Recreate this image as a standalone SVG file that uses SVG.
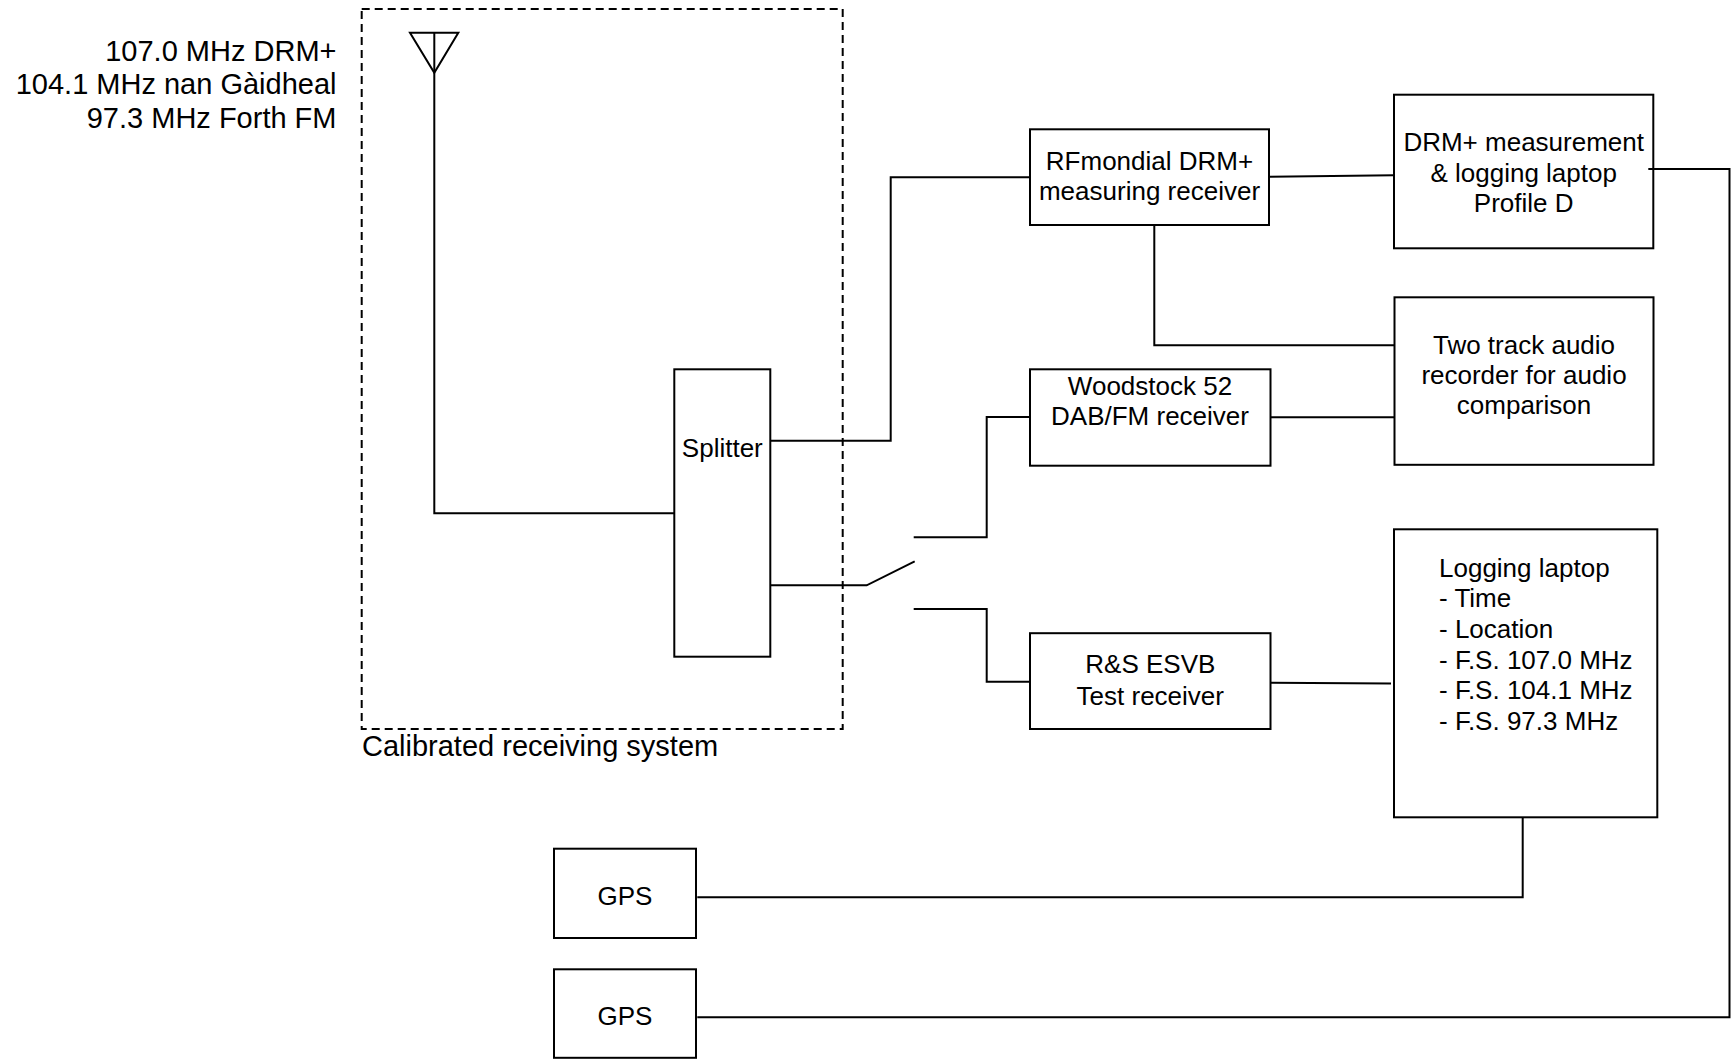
<svg xmlns="http://www.w3.org/2000/svg" width="1731" height="1059" viewBox="0 0 1731 1059">
<style>
.box{fill:#fff;stroke:#000;stroke-width:2}
.wire{fill:none;stroke:#000;stroke-width:2}
.dash{fill:none;stroke:#000;stroke-width:2;stroke-dasharray:8 5}
text{font-family:"Liberation Sans",Arial,sans-serif;fill:#000}
.lbl{font-size:26px;text-anchor:middle}
.big{font-size:29px}
</style>
<rect width="1731" height="1059" fill="#fff"/>
<g id="calibrated-system">
<rect class="dash" x="361.7" y="9" width="481" height="720"/>
<text class="big" x="362" y="756">Calibrated receiving system</text>
</g>
<g id="frequencies">
<text class="big" text-anchor="end" x="336.5" y="60.7">107.0 MHz DRM+</text>
<text class="big" text-anchor="end" x="336.5" y="94">104.1 MHz nan Gàidheal</text>
<text class="big" text-anchor="end" x="336.5" y="127.7">97.3 MHz Forth FM</text>
</g>
<g id="antenna">
<polygon class="wire" points="410,32.7 458.3,32.7 434.3,72.7"/>
<line class="wire" x1="434.3" y1="32.7" x2="434.3" y2="72.7"/>
</g>
<g id="splitter">
<rect class="box" x="674.3" y="369.3" width="96" height="287.4"/>
<text class="lbl" x="722.3" y="456.7">Splitter</text>
</g>
<g id="rfmondial">
<rect class="box" x="1030" y="129.3" width="239" height="95.7"/>
<text class="lbl" x="1149.5" y="170">RFmondial DRM+</text>
<text class="lbl" x="1149.5" y="200">measuring receiver</text>
</g>
<g id="drm-laptop">
<rect class="box" x="1394" y="94.7" width="259.3" height="153.6"/>
<text class="lbl" x="1523.7" y="151">DRM+ measurement</text>
<text class="lbl" x="1523.7" y="181.7">&amp; logging laptop</text>
<text class="lbl" x="1523.7" y="212.3">Profile D</text>
</g>
<g id="audio-recorder">
<rect class="box" x="1394.5" y="297.3" width="259" height="167.5"/>
<text class="lbl" x="1524" y="354">Two track audio</text>
<text class="lbl" x="1524" y="384">recorder for audio</text>
<text class="lbl" x="1524" y="414.3">comparison</text>
</g>
<g id="woodstock">
<rect class="box" x="1030" y="369.3" width="240.5" height="96.4"/>
<text class="lbl" x="1150" y="395">Woodstock 52</text>
<text class="lbl" x="1150" y="425">DAB/FM receiver</text>
</g>
<g id="rs-esvb">
<rect class="box" x="1030" y="633.2" width="240.5" height="95.8"/>
<text class="lbl" x="1150.3" y="673.4">R&amp;S ESVB</text>
<text class="lbl" x="1150.3" y="704.8">Test receiver</text>
</g>
<g id="logging-laptop">
<rect class="box" x="1394" y="529.3" width="263.3" height="288"/>
<text font-size="26" x="1439" y="577.3">Logging laptop</text>
<text font-size="26" x="1439" y="607.3">- Time</text>
<text font-size="26" x="1439" y="638.3">- Location</text>
<text font-size="26" x="1439" y="669.3">- F.S. 107.0 MHz</text>
<text font-size="26" x="1439" y="699.3">- F.S. 104.1 MHz</text>
<text font-size="26" x="1439" y="730">- F.S. 97.3 MHz</text>
</g>
<g id="gps1">
<rect class="box" x="554" y="848.7" width="142" height="89.3"/>
<text class="lbl" x="625" y="905">GPS</text>
</g>
<g id="gps2">
<rect class="box" x="554" y="969.3" width="142" height="88.5"/>
<text class="lbl" x="625" y="1025">GPS</text>
</g>
<g id="connectors">
<path class="wire" d="M434.3,72.7 V513.3 H674.3"/>
<path class="wire" d="M770.3,440.7 H890.7 V177.3 H1030"/>
<path class="wire" d="M770.3,585.3 H866.7 L914.7,561.3"/>
<path class="wire" d="M913.7,537.3 H986.7 V417 H1030"/>
<path class="wire" d="M913.7,609 H986.7 V681.7 H1030"/>
<path class="wire" d="M1269,176.7 L1394,175.3"/>
<path class="wire" d="M1154.3,225 V345.3 H1394.5"/>
<path class="wire" d="M1270.5,417.3 H1394.5"/>
<path class="wire" d="M1270.5,682.7 L1391,683.5"/>
<path class="wire" d="M1522.7,817.3 V897.3 H697.3"/>
<path class="wire" d="M1648.3,169 H1729.5 V1017.3 H697.3"/>
</g>
</svg>
